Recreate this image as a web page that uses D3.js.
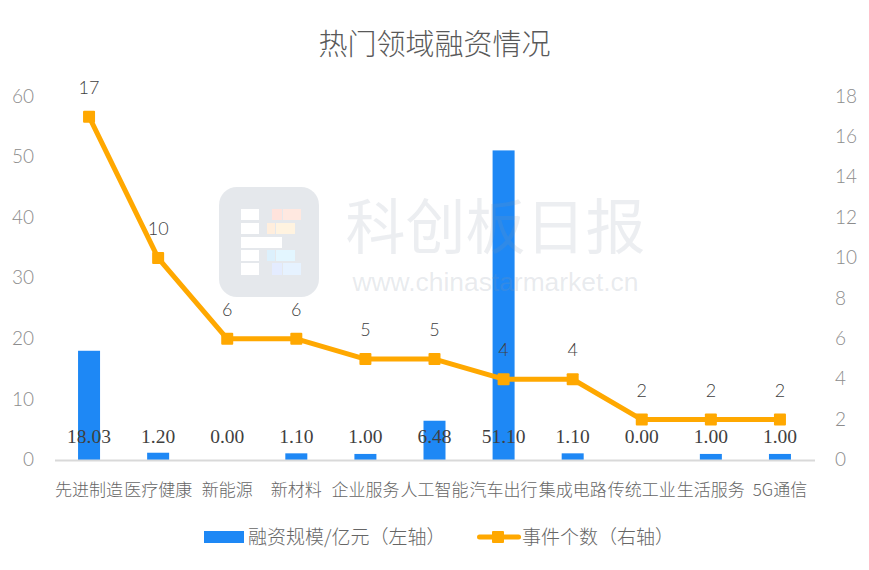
<!DOCTYPE html>
<html>
<head>
<meta charset="utf-8">
<script src="https://cdn.jsdelivr.net/npm/d3@7"></script>
<style>
  html, body { margin: 0; padding: 0; background: #fff; }
  text { font-family: "Noto Sans CJK SC", "Noto Sans", sans-serif; font-weight: 300; }
</style>
</head>
<body>
<div id="chart"></div>
<script>
const categories = ["先进制造", "医疗健康", "新能源", "新材料", "企业服务", "人工智能", "汽车出行", "集成电路", "传统工业", "生活服务", "5G通信"];
const amounts = [18.03, 1.20, 0.00, 1.10, 1.00, 6.48, 51.10, 1.10, 0.00, 1.00, 1.00];
const amountLabels = ["18.03", "1.20", "0.00", "1.10", "1.00", "6.48", "51.10", "1.10", "0.00", "1.00", "1.00"];
const events = [17, 10, 6, 6, 5, 5, 4, 4, 2, 2, 2];
const leftTicks = [0, 10, 20, 30, 40, 50, 60];
const rightTicks = [0, 2, 4, 6, 8, 10, 12, 14, 16, 18];

const width = 869, height = 570;
const BLUE = "#1e88f5", ORANGE = "#ffa800", GREY = "#8c8c8c", DARK = "#404040", LABEL = "#666";
const DIGITS = "Lato, 'Noto Sans', sans-serif";

const svg = d3.select("#chart").append("svg")
  .attr("width", width).attr("height", height)
  .style("display", "block");

const x = d3.scaleBand().domain(categories).range([54.5, 814.5]);
const yLeft = d3.scaleLinear().domain([0, 60]).range([460, 96.5]);
const yRight = d3.scaleLinear().domain([0, 18]).range([460, 96.5]);
const cx = d => x(d) + x.bandwidth() / 2;

svg.append("text")
  .attr("x", 434.5).attr("y", 55)
  .attr("text-anchor", "middle")
  .attr("font-size", 29).attr("fill", "#595959")
  .text("热门领域融资情况");

// bars
svg.selectAll(".bar").data(categories).enter().append("rect")
  .attr("class", "bar")
  .attr("x", d => cx(d) - 11)
  .attr("width", 22)
  .attr("y", (d, i) => yLeft(amounts[i]))
  .attr("height", (d, i) => yLeft(0) - yLeft(amounts[i]))
  .attr("fill", BLUE);

// axes
const axisLeft = d3.axisLeft(yLeft).tickValues(leftTicks).tickSize(0).tickPadding(0);
const gl = svg.append("g").attr("transform", "translate(34,-0.5)").call(axisLeft);
gl.select(".domain").remove();
gl.selectAll("text").attr("font-size", 19).attr("fill", GREY).style("font-family", DIGITS);

const axisRight = d3.axisRight(yRight).tickValues(rightTicks).tickSize(0).tickPadding(0);
const gr = svg.append("g").attr("transform", "translate(835,-0.5)").call(axisRight);
gr.select(".domain").remove();
gr.selectAll("text").attr("font-size", 19).attr("fill", GREY).style("font-family", DIGITS);

const axisBottom = d3.axisBottom(x).tickSize(0).tickPadding(0);
const gb = svg.append("g").attr("transform", "translate(0,460)").call(axisBottom);
gb.select(".domain").attr("stroke", "#d9d9d9").attr("stroke-width", 2);
gb.selectAll("text").attr("font-size", 17).attr("fill", LABEL).attr("y", 24).attr("dy", "0.71em");

// line
const line = d3.line().x((d, i) => cx(categories[i])).y(d => yRight(d));
svg.append("path").datum(events)
  .attr("d", line)
  .attr("fill", "none").attr("stroke", ORANGE).attr("stroke-width", 5)
  .attr("stroke-linecap", "round").attr("stroke-linejoin", "round");

svg.selectAll(".pt").data(events).enter().append("rect")
  .attr("class", "pt")
  .attr("x", (d, i) => cx(categories[i]) - 6)
  .attr("y", d => yRight(d) - 6)
  .attr("width", 12).attr("height", 12).attr("rx", 1)
  .attr("fill", ORANGE);

// data labels
svg.selectAll(".evt").data(events).enter().append("text")
  .attr("class", "evt")
  .attr("x", (d, i) => cx(categories[i]))
  .attr("y", d => yRight(d) - 23)
  .attr("text-anchor", "middle")
  .attr("font-size", 18).attr("fill", DARK)
  .style("font-family", DIGITS)
  .text(d => d);

svg.selectAll(".amt").data(amountLabels).enter().append("text")
  .attr("class", "amt")
  .attr("x", (d, i) => cx(categories[i]))
  .attr("y", 442.5)
  .attr("text-anchor", "middle")
  .attr("font-size", 19.5).attr("fill", DARK)
  .style("font-family", "'Liberation Serif', serif")
  .text(d => d);

// legend
svg.append("rect").attr("x", 204).attr("y", 531).attr("width", 40).attr("height", 12).attr("fill", BLUE);
svg.append("text").attr("x", 248).attr("y", 543.5).attr("font-size", 19).attr("fill", LABEL).text("融资规模/亿元（左轴）");
svg.append("line").attr("x1", 479.5).attr("x2", 518.5).attr("y1", 537).attr("y2", 537)
  .attr("stroke", ORANGE).attr("stroke-width", 5).attr("stroke-linecap", "round");
svg.append("rect").attr("x", 492).attr("y", 531).attr("width", 12).attr("height", 12).attr("rx", 1).attr("fill", ORANGE);
svg.append("text").attr("x", 522).attr("y", 543.5).attr("font-size", 19).attr("fill", LABEL).text("事件个数（右轴）");

// watermark sits on top of the chart
const mark = svg.append("g").attr("pointer-events", "none");
mark.append("rect").attr("x", 219).attr("y", 187).attr("width", 100).attr("height", 110).attr("rx", 18)
  .attr("fill", "#8a97a8").attr("fill-opacity", 0.22);
[[241, 209, 18, 11], [241, 223, 18, 11], [241, 237, 41, 11], [241, 250, 18, 11], [241, 263, 18, 12]].forEach(b => {
  mark.append("rect").attr("x", b[0]).attr("y", b[1]).attr("width", b[2]).attr("height", b[3]).attr("fill", "#fff");
});
[[272, 209, 10, 11, "#ffe3dc"], [283, 209, 18, 11, "#ffe8e0"],
 [267, 223, 8, 11, "#ffeedd"], [276, 223, 19, 11, "#fff3e0"],
 [267, 250, 8, 11, "#dcf0fc"], [276, 250, 19, 11, "#e3f6ff"],
 [272, 263, 10, 12, "#e4ecff"], [283, 263, 18, 12, "#e6f2ff"]].forEach(b => {
  mark.append("rect").attr("x", b[0]).attr("y", b[1]).attr("width", b[2]).attr("height", b[3]).attr("fill", b[4]);
});
mark.append("text").attr("x", 495.5).attr("y", 249).attr("text-anchor", "middle")
  .attr("font-size", 60).attr("fill", "#8a97a8").attr("fill-opacity", 0.16)
  .style("font-weight", 400)
  .text("科创板日报");
mark.append("text").attr("x", 495.5).attr("y", 291).attr("text-anchor", "middle")
  .attr("font-size", 26.4).attr("fill", "#8a97a8").attr("fill-opacity", 0.2)
  .style("font-family", "'Liberation Sans', sans-serif")
  .text("www.chinastarmarket.cn");
</script>
</body>
</html>
